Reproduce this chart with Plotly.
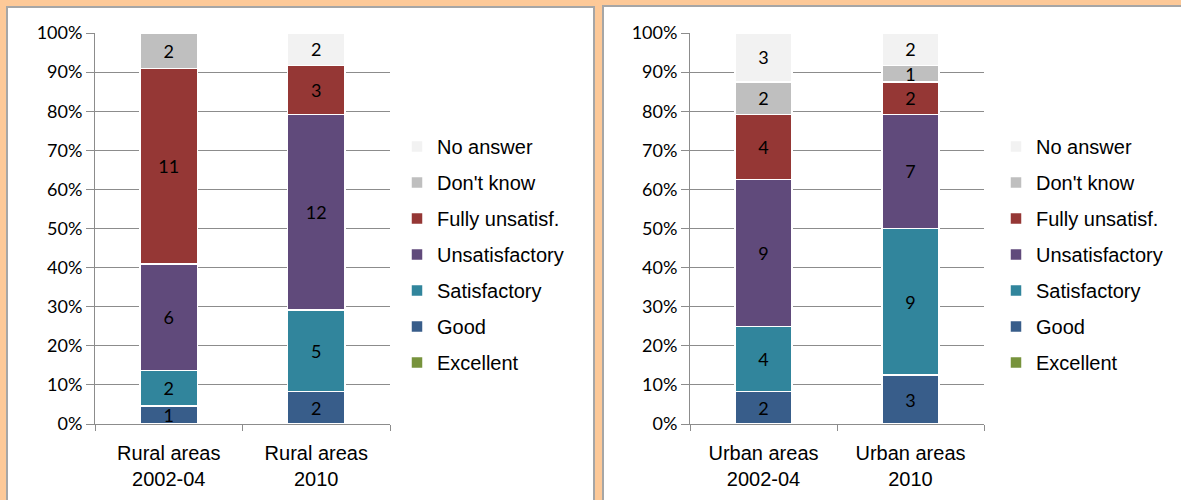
import plotly.graph_objects as go

# Dados (contagens de respostas por categoria)
categorias = ['Excellent', 'Good', 'Satisfactory', 'Unsatisfactory',
              'Fully unsatisf.', "Don't know", 'No answer']
cores = ['#77933C', '#385D8A', '#31859C', '#604A7B', '#953735', '#BFBFBF', '#F2F2F2']

rural_x = ['Rural areas<br>2002-04', 'Rural areas<br>2010']
urban_x = ['Urban areas<br>2002-04', 'Urban areas<br>2010']

rural_vals = {
    'Excellent': [0, 0],
    'Good': [1, 2],
    'Satisfactory': [2, 5],
    'Unsatisfactory': [6, 12],
    'Fully unsatisf.': [11, 3],
    "Don't know": [2, 0],
    'No answer': [0, 2],
}
urban_vals = {
    'Excellent': [0, 0],
    'Good': [2, 3],
    'Satisfactory': [4, 9],
    'Unsatisfactory': [9, 7],
    'Fully unsatisf.': [4, 2],
    "Don't know": [2, 1],
    'No answer': [3, 2],
}

yticks = [0, 10, 20, 30, 40, 50, 60, 70, 80, 90, 100]
yticks_txt = [f'{v}%' for v in yticks]

W, H = 1181, 500
fonte_num = 'Lato'
fonte_txt = 'Liberation Sans'

fig = go.Figure()

for painel, (xs, vals, xa, ya, leg) in enumerate([
        (rural_x, rural_vals, 'x', 'y', 'legend'),
        (urban_x, urban_vals, 'x2', 'y2', 'legend2')]):
    for i, (cat, cor) in enumerate(zip(categorias, cores)):
        v = vals[cat]
        fig.add_trace(go.Bar(
            x=xs, y=v, name=cat,
            text=[str(n) if n else '' for n in v],
            textposition='inside', insidetextanchor='middle', textangle=0,
            textfont=dict(family=fonte_num, size=18, color='black'),
            marker=dict(color=cor, line=dict(color='white', width=1.5)),
            xaxis=xa, yaxis=ya, legend=leg,
            legendgroup=f'{leg}_{cat}', legendrank=100 - i,
            hoverinfo='skip',
        ))

eixo_y = dict(range=[0, 100], tickvals=yticks, ticktext=yticks_txt,
              showgrid=True, gridcolor='#8C8C8C', gridwidth=1,
              showline=True, linecolor='#8C8C8C', linewidth=1,
              ticks='outside', ticklen=8, tickcolor='#8C8C8C',
              tickfont=dict(family=fonte_num, size=18, color='black'),
              zeroline=False, fixedrange=True, automargin=False)
eixo_x = dict(showline=True, linecolor='#8C8C8C', linewidth=1,
              ticks='outside', tickson='boundaries', ticklen=6, tickcolor='#8C8C8C',
              tickfont=dict(family=fonte_txt, size=20, color='black'),
              ticklabelstandoff=11,
              showgrid=False, fixedrange=True, automargin=False)

leg_base = dict(traceorder='grouped', tracegroupgap=7,
                font=dict(family=fonte_txt, size=20, color='black'),
                bgcolor='rgba(0,0,0,0)', yanchor='top', xanchor='left',
                itemclick=False, itemdoubleclick=False)

fig.update_layout(
    width=W, height=H,
    margin=dict(l=0, r=0, t=0, b=0),
    paper_bgcolor='#FDC998',
    plot_bgcolor='rgba(0,0,0,0)',
    barmode='stack', barnorm='percent', bargap=0.61,
    uniformtext=dict(minsize=16, mode='show'),
    xaxis=dict(domain=[95 / W, 390 / W], anchor='y', **eixo_x),
    yaxis=dict(domain=[1 - 424 / H, 1 - 33 / H], anchor='x', **eixo_y),
    xaxis2=dict(domain=[690 / W, 984 / W], anchor='y2', **eixo_x),
    yaxis2=dict(domain=[1 - 424 / H, 1 - 33 / H], anchor='x2', **eixo_y),
    legend=dict(x=397 / W, y=1 - 127 / H, **leg_base),
    legend2=dict(x=996 / W, y=1 - 127 / H, **leg_base),
    showlegend=True,
    shapes=[
        dict(type='rect', xref='paper', yref='paper', layer='below',
             x0=7 / W, x1=594 / W, y0=-0.05, y1=1 - 7 / H,
             fillcolor='white', line=dict(color='#A6A6A6', width=2)),
        dict(type='rect', xref='paper', yref='paper', layer='below',
             x0=603 / W, x1=1.05, y0=-0.05, y1=1 - 6 / H,
             fillcolor='white', line=dict(color='#A6A6A6', width=2)),
    ],
)

fig.write_html('out.html', config={'displayModeBar': False},
               post_script="document.body.style.margin='0';")
